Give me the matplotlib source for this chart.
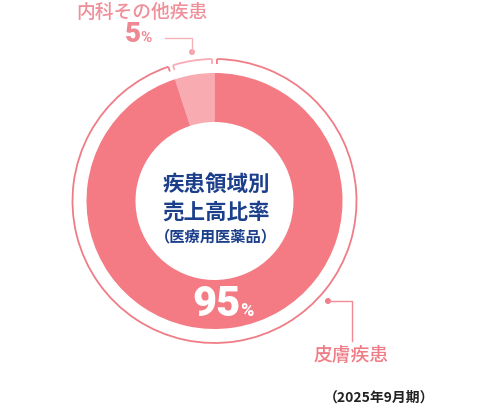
import matplotlib.pyplot as plt
from matplotlib.patches import Arc, Circle
import numpy as np

W, H = 498, 410

labels = ['内科その他疾患', '皮膚疾患']
shares = [5, 95]
pct_labels = ['5', '95']
title_lines = ['疾患領域別', '売上高比率', '（医療用医薬品）']
period = '（2025年9月期）'

fill_colors = ['#f8abb1', '#f47a83']
ring_colors = ['#f7adb3', '#f07c86']
NAVY = '#1c3f8c'
CX, CY = 214.5, H - 202
R_OUT, R_IN, R_RING = 128, 79, 142

plt.rcParams['font.family'] = ['Noto Sans CJK JP', 'DejaVu Sans']

fig = plt.figure(figsize=(W / 100, H / 100), dpi=100)
ax = fig.add_axes([0, 0, 1, 1])

# donut (5% goes from the top to the left)
ax.pie(shares, colors=fill_colors, startangle=90, counterclock=True,
       center=(CX, CY), radius=R_OUT,
       wedgeprops=dict(width=R_OUT - R_IN, linewidth=0))
ax.set_xlim(0, W)
ax.set_ylim(0, H)
ax.set_aspect('auto')
ax.axis('off')

# outer ring with gaps and small inward ticks at the boundaries
bounds = 90 + 360 * np.concatenate([[0], np.cumsum(shares)]) / sum(shares)
gap = 1.0
for i in range(len(shares)):
    a1, a2 = bounds[i] + gap, bounds[i + 1] - gap
    ax.add_patch(Arc((CX, CY), 2 * R_RING, 2 * R_RING, theta1=a1, theta2=a2,
                     color=ring_colors[i], lw=1.3))
    for a in (a1, a2):
        t = np.radians(a)
        ax.plot([CX + R_RING * np.cos(t), CX + (R_RING - 5) * np.cos(t)],
                [CY + R_RING * np.sin(t), CY + (R_RING - 5) * np.sin(t)],
                color=ring_colors[i], lw=1.3, solid_capstyle='butt')

# center title
ax.text(CX + 1.5, H - 184, title_lines[0], ha='center', va='center',
        fontsize=15.5, fontweight='bold', color=NAVY)
ax.text(CX + 1.5, H - 212, title_lines[1], ha='center', va='center',
        fontsize=15.5, fontweight='bold', color=NAVY)
ax.text(CX + 1.5, H - 236, title_lines[2], ha='center', va='center',
        fontsize=11, fontweight='bold', color=NAVY)

# 95% inside the donut
ax.text(241, H - 305, pct_labels[1], ha='right', va='center', fontsize=30,
        fontweight='heavy', color='white', family='Roboto')
ax.text(240, H - 311, '%', ha='left', va='center', fontsize=13,
        fontweight='bold', color='white', family='Roboto')

# 5% callout
ax.plot([192, 192, 165], [H - 53, H - 39, H - 39], color='#f5b3b9', lw=1)
ax.add_patch(Circle((192, H - 53), 3, color='#f5a3ab', lw=0))
ax.text(141, H - 34, pct_labels[0], ha='right', va='center', fontsize=20,
        fontweight='heavy', color='#ee8893', family='Roboto')
ax.text(140, H - 38, '%', ha='left', va='center', fontsize=11,
        fontweight='bold', color='#ee8893', family='Roboto')
ax.text(142, H - 12, labels[0], ha='center', va='center', fontsize=13.5,
        fontweight='medium', color='#f08e99')

# 皮膚疾患 callout
ax.plot([328, 352, 352], [H - 302, H - 302, H - 342], color='#f08a94', lw=1)
ax.add_patch(Circle((328, H - 302), 3, color='#f07c86', lw=0))
ax.text(351, H - 356, labels[1], ha='center', va='center', fontsize=13.5,
        fontweight='medium', color='#f07c86')

ax.text(379, H - 398, period, ha='center', va='center', fontsize=10,
        fontweight='bold', color='#222222')

fig.savefig('out.png', dpi=100)
